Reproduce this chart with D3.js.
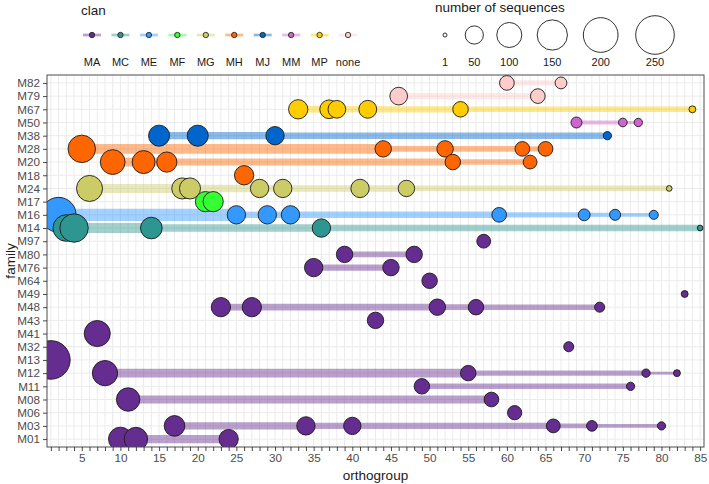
<!DOCTYPE html>
<html>
<head>
<meta charset="utf-8">
<script src="https://cdn.jsdelivr.net/npm/d3@7"></script>
<style>
  html, body { margin: 0; padding: 0; background: #fff; }
  text { font-family: "Liberation Sans", Arial, Helvetica, sans-serif; }
</style>
</head>
<body>
<svg id="chart" width="709" height="484"></svg>
<script>
// ---------------- data ----------------
const families = ["M82","M79","M67","M50","M38","M28","M20","M18","M24","M17","M16","M14","M97","M80","M76","M64","M49","M48","M43","M41","M32","M13","M12","M11","M08","M06","M03","M01"];
const familyClan = ["none","none","MP","MM","MJ","MH","MH","MH","MG","MF","ME","MC","MA","MA","MA","MA","MA","MA","MA","MA","MA","MA","MA","MA","MA","MA","MA","MA"];
const orthogroups = [
  [60,67],[46,64],[33,37,38,42,54,84],[69,75,77],[15,20,30,73],[5,44,52,62,65],[9,13,16,53,63],[26],
  [6,18,19,28,31,41,47,81],[21,22],[2,25,29,32,59,70,74,79],[3,4,14,36,85],[57],[39,48],[35,45],[50],[83],
  [23,27,51,56,72],[43],[7],[68],[1],[8,55,78,82],[49,76],[11,58],[61],[17,34,40,66,71,80],[10,12,24]
];
const sequences = [
  [31,19],[47,31],[57,53,47,48,35,5],[16,9,8],[69,69,51,8],[122,40,40,31,31],[98,83,63,35,27],[57],
  [109,69,69,51,51,51,40,3],[63,63],[203,51,51,51,31,19,16,10],[114,131,73,51,3],[27],[40,40],[51,40],[35],[5],
  [57,57,40,35,13],[40],[109],[13],[250],[102,35,8,5],[35,8],[87,31],[29],[66,51,45,27,15,8],[90,87,57]
];
const clans = ["MA","MC","ME","MF","MG","MH","MJ","MM","MP","none"];
const clanColors = ["#662D91","#2E9690","#3399FF","#33FF33","#CCCC66","#FF6600","#0066CC","#CC66CC","#FFCC00","#FFCCCC"];
const sizeBreaks = [1,50,100,150,200,250];
const xTickLabels = [5,10,15,20,25,30,35,40,45,50,55,60,65,70,75,80,85];

// ---------------- layout ----------------
const svg = d3.select("#chart");
const P = {left: 47, right: 704, top: 75, bottom: 447};

const x = d3.scaleLinear().domain([0.5, 85.5]).range([P.left, P.right]);
const y = d3.scalePoint().domain(families).range([P.top, P.bottom]).padding(0.6);
const color = d3.scaleOrdinal().domain(clans).range(clanColors);
const r = d3.scaleSqrt().domain([1, 250]).range([2, 19.3]);

// build records
const rows = families.map((f, i) => ({
  family: f, clan: familyClan[i],
  pts: orthogroups[i].map((o, j) => ({o, n: sequences[i][j]}))
}));

// grid
const grid = svg.append("g");
grid.selectAll("line.v").data(d3.range(1, 86)).join("line")
  .attr("x1", d => x(d)).attr("x2", d => x(d))
  .attr("y1", P.top).attr("y2", P.bottom)
  .attr("stroke", "#ebebeb").attr("stroke-width", 1);
grid.selectAll("line.h").data(families).join("line")
  .attr("x1", P.left).attr("x2", P.right)
  .attr("y1", d => y(d)).attr("y2", d => y(d))
  .attr("stroke", "#ebebeb").attr("stroke-width", 1);

// clip
svg.append("clipPath").attr("id", "clip").append("rect")
  .attr("x", P.left).attr("y", P.top).attr("width", P.right - P.left).attr("height", P.bottom - P.top);
const plot = svg.append("g").attr("clip-path", "url(#clip)");

// lines (segments)
const segs = [];
rows.forEach(row => {
  const s = row.pts.slice().sort((a, b) => a.o - b.o);
  for (let k = 0; k < s.length - 1; k++) {
    segs.push({family: row.family, clan: row.clan, a: s[k], b: s[k + 1]});
  }
});
plot.append("g").selectAll("line").data(segs).join("line")
  .attr("x1", d => x(d.a.o)).attr("x2", d => x(d.b.o))
  .attr("y1", d => y(d.family)).attr("y2", d => y(d.family))
  .attr("stroke", d => color(d.clan))
  .attr("stroke-opacity", 0.45)
  .attr("stroke-width", d => 0.7 * r(d.a.n))
  .attr("stroke-linecap", "butt");

// points
const pts = [];
rows.forEach(row => row.pts.slice().sort((a, b) => a.o - b.o)
  .forEach(p => pts.push({family: row.family, clan: row.clan, o: p.o, n: p.n})));
plot.append("g").selectAll("circle").data(pts).join("circle")
  .attr("cx", d => x(d.o)).attr("cy", d => y(d.family))
  .attr("r", d => r(d.n))
  .attr("fill", d => color(d.clan))
  .attr("stroke", "#1a1a1a").attr("stroke-width", 0.9);

// panel border
svg.append("rect").attr("x", P.left).attr("y", P.top)
  .attr("width", P.right - P.left).attr("height", P.bottom - P.top)
  .attr("fill", "none").attr("stroke", "#4d4d4d").attr("stroke-width", 1);

// axes
const xAxis = d3.axisBottom(x).tickValues(d3.range(1, 86)).tickSize(4).tickPadding(3)
  .tickFormat(d => xTickLabels.includes(d) ? d : "");
const gx = svg.append("g").attr("transform", `translate(0,${P.bottom})`).call(xAxis);
gx.select(".domain").remove();
gx.selectAll(".tick line").attr("stroke", "#333").attr("stroke-width", 0.9);
gx.selectAll(".tick text").attr("fill", "#4d4d4d").style("font-size", "11.7px")
  .style("font-family", "'Liberation Sans', Arial, sans-serif");

const yAxis = d3.axisLeft(y).tickSize(4).tickPadding(3);
const gy = svg.append("g").attr("transform", `translate(${P.left},0)`).call(yAxis);
gy.select(".domain").remove();
gy.selectAll(".tick line").attr("stroke", "#333").attr("stroke-width", 0.9);
gy.selectAll(".tick text").attr("fill", "#4d4d4d").style("font-size", "11.7px")
  .style("font-family", "'Liberation Sans', Arial, sans-serif");

// axis titles
svg.append("text").attr("x", (P.left + P.right) / 2).attr("y", 480)
  .attr("text-anchor", "middle").style("font-size", "13.5px").attr("fill", "#1a1a1a").text("orthogroup");
svg.append("text").attr("transform", `translate(15,${(P.top + P.bottom) / 2}) rotate(-90)`)
  .attr("text-anchor", "middle").style("font-size", "13.5px").attr("fill", "#1a1a1a").text("family");

// clan legend
const lg = svg.append("g");
lg.append("text").attr("x", 81).attr("y", 15).style("font-size", "13.5px").attr("fill", "#1a1a1a").text("clan");
const keyX = c => 92 + clans.indexOf(c) * 28.45;
const keys = lg.selectAll("g.key").data(clans).join("g").attr("class", "key");
keys.append("line").attr("x1", d => keyX(d) - 9).attr("x2", d => keyX(d) + 9)
  .attr("y1", 35).attr("y2", 35).attr("stroke", d => color(d)).attr("stroke-opacity", 0.45).attr("stroke-width", 2.7);
keys.append("circle").attr("cx", d => keyX(d)).attr("cy", 35).attr("r", 2.7)
  .attr("fill", d => color(d)).attr("stroke", "#1a1a1a").attr("stroke-width", 0.8);
keys.append("text").attr("x", d => keyX(d)).attr("y", 66).attr("text-anchor", "middle")
  .style("font-size", "11px").attr("fill", "#1a1a1a").text(d => d);

// size legend
const sg = svg.append("g");
sg.append("text").attr("x", 435).attr("y", 12).style("font-size", "13.5px").attr("fill", "#1a1a1a").text("number of sequences");
const sizeX = [445, 474.3, 509.3, 552.3, 600.7, 655];
const sk = sg.selectAll("g.sk").data(sizeBreaks).join("g").attr("class", "sk");
sk.append("circle").attr("cx", (d, i) => sizeX[i]).attr("cy", 35).attr("r", d => r(d))
  .attr("fill", "#fff").attr("stroke", "#1a1a1a").attr("stroke-width", 0.9);
sk.append("text").attr("x", (d, i) => sizeX[i]).attr("y", 66).attr("text-anchor", "middle")
  .style("font-size", "11px").attr("fill", "#1a1a1a").text(d => d);
</script>
</body>
</html>
